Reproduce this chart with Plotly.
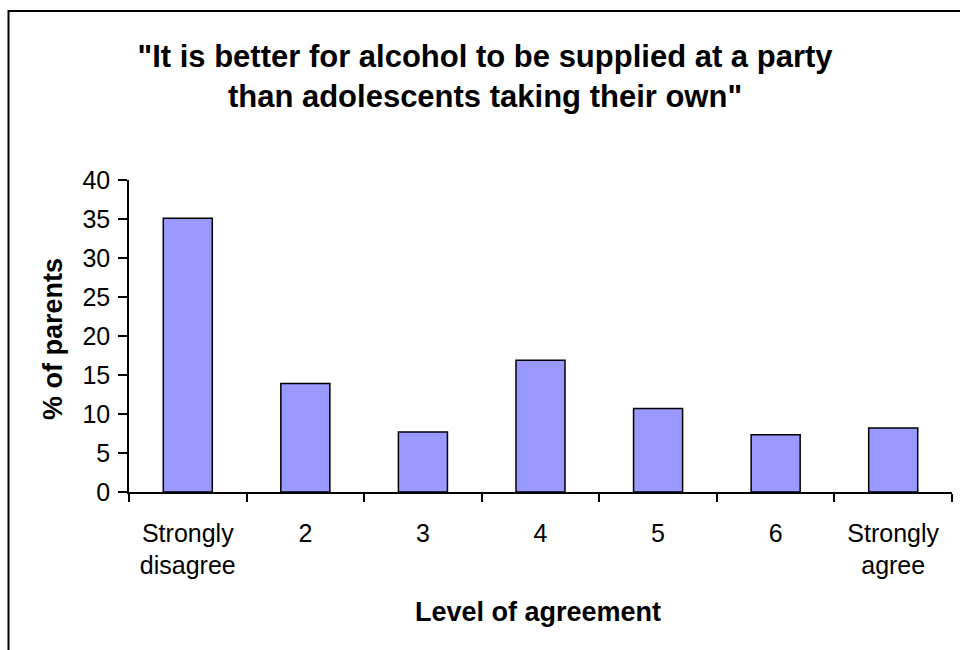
import plotly.graph_objects as go

categories = ["Strongly<br>disagree", "2", "3", "4", "5", "6", "Strongly<br>agree"]
values = [35.1, 13.9, 7.7, 16.9, 10.7, 7.35, 8.2]
y_ticks = [0, 5, 10, 15, 20, 25, 30, 35, 40]

W, H = 960, 650
L, R, T, B = 129, 952, 180, 492
pw, ph = R - L, B - T

def px_x(x):
    return (x - L) / pw

def px_y(y):
    return (B - y) / ph

font = "Liberation Sans, Arial, sans-serif"

fig = go.Figure(go.Bar(
    x=categories, y=values,
    marker=dict(color="#9999FF", line=dict(color="black", width=1.5)),
    width=0.417,
))

fig.update_layout(
    width=W, height=H,
    margin=dict(l=L, r=W - R, t=T, b=H - B, pad=0),
    paper_bgcolor="white", plot_bgcolor="white",
    showlegend=False,
    font=dict(family=font, color="black", size=25),
    title=dict(
        text='<b>"It is better for alcohol to be supplied at a party<br>than adolescents taking their own"</b>',
        x=485 / W, xref="container", xanchor="center",
        y=1 - 66.5 / H, yref="container", yanchor="middle",
        font=dict(family=font, size=31, color="black"),
    ),
    xaxis=dict(
        type="category", showline=True, linecolor="black", linewidth=1.5,
        ticks="outside", tickson="boundaries", ticklen=8, tickwidth=1.5, tickcolor="black",
        showgrid=False, zeroline=False,
        tickfont=dict(size=25), ticklabelstandoff=18,
    ),
    yaxis=dict(
        range=[0, 40], tickvals=y_ticks, showline=True, linecolor="black", linewidth=1.5,
        ticks="outside", ticklen=9, tickwidth=1.5, tickcolor="black",
        showgrid=False, zeroline=False,
        tickfont=dict(size=25), ticklabelstandoff=3,
    ),
    annotations=[
        dict(text="<b>% of parents</b>", xref="paper", yref="paper",
             x=px_x(53), y=px_y(339), textangle=-90, showarrow=False,
             xanchor="center", yanchor="middle", font=dict(size=27)),
        dict(text="<b>Level of agreement</b>", xref="paper", yref="paper",
             x=px_x(538), y=px_y(612), showarrow=False,
             xanchor="center", yanchor="middle", font=dict(size=27)),
    ],
    shapes=[
        dict(type="rect", xref="paper", yref="paper",
             x0=px_x(8.5), x1=px_x(1000), y0=px_y(700), y1=px_y(11),
             line=dict(color="black", width=2), fillcolor="rgba(0,0,0,0)", layer="below"),
    ],
)

fig.write_html(
    "out.html",
    config={"displayModeBar": False},
    post_script="document.body.style.margin='0';document.body.style.overflow='hidden';",
)
